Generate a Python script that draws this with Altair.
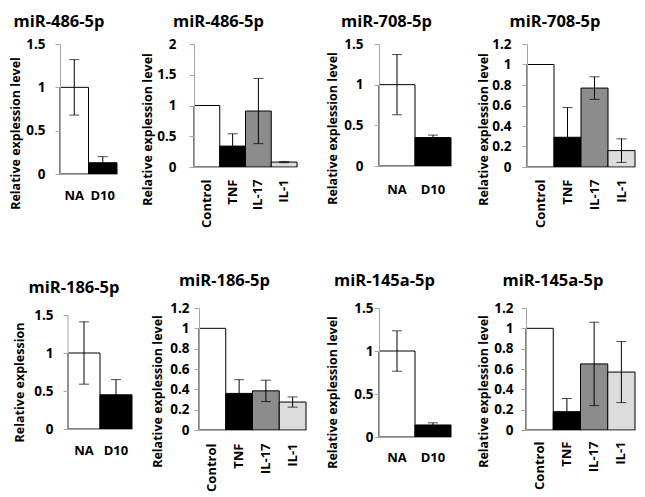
import altair as alt
import pandas as pd

FONT = "Open Sans"

# ---- data ----
TWO = ["NA", "D10"]
FOUR = ["Control", "TNF", "IL-17", "IL-1"]
TWO_COLORS = ["#ffffff", "#000000"]
FOUR_COLORS = ["#ffffff", "#000000", "#8c8c8c", "#dcdcdc"]

titles = ["miR-486-5p", "miR-486-5p", "miR-708-5p", "miR-708-5p",
          "miR-186-5p", "miR-186-5p", "miR-145a-5p", "miR-145a-5p"]
y_titles = ["Relative explession level"] * 4 + ["Relative explession"] + ["Relative explession level"] * 3

p1_values = [1.0, 0.13]
p1_errors = [0.32, 0.07]
p2_values = [1.0, 0.34, 0.91, 0.08]
p2_errors = [None, 0.20, 0.53, 0.01]
p3_values = [1.0, 0.35]
p3_errors = [0.37, 0.03]
p4_values = [1.0, 0.29, 0.77, 0.16]
p4_errors = [None, 0.29, 0.11, 0.115]
p5_values = [1.0, 0.45]
p5_errors = [0.41, 0.20]
p6_values = [1.0, 0.36, 0.385, 0.275]
p6_errors = [None, 0.135, 0.105, 0.05]
p7_values = [1.0, 0.14]
p7_errors = [0.235, 0.025]
p8_values = [1.0, 0.18, 0.65, 0.57]
p8_errors = [None, 0.13, 0.41, 0.30]

ticks_15 = [0, 0.5, 1, 1.5]
ticks_2 = [0, 0.5, 1, 1.5, 2]
ticks_12 = [0, 0.2, 0.4, 0.6, 0.8, 1, 1.2]


def panel(title, ytitle, cats, colors, values, errors, ymax, ticks,
          cell_w, x0, x1, h, tx, ty, ypad, xangle, xpad, tdx, toff, dom_top=None):
    df = pd.DataFrame({"cat": cats, "val": values, "color": colors,
                       "err": [float("nan") if e is None else e for e in errors]})
    df["lo"] = df["val"] - df["err"]
    df["hi"] = df["val"] + df["err"]
    edf = df.dropna()
    top = ymax if dom_top is None else dom_top
    yscale = alt.Scale(domain=[0, top], nice=False, zero=True)
    yaxis = alt.Axis(values=ticks, format=".1~f", title=ytitle, titleAngle=270,
                     titleAlign="center", titleBaseline="middle", titleX=tx, titleY=ty,
                     labelPadding=ypad, tickSize=5, domain=dom_top is None, zindex=1,
                     offset=-x0, labelFontSize=13.5, titleFontSize=12.5)
    xaxis = alt.Axis(title=None, labelAngle=xangle, ticks=False, labelPadding=xpad,
                     zindex=1, labelFontSize=13)
    X = alt.X("cat:N", scale=alt.Scale(domain=cats, range=[x0, x1], paddingInner=0,
                                       paddingOuter=0), axis=xaxis)
    bars = alt.Chart(df).mark_bar(stroke="black", strokeWidth=1).encode(
        x=X,
        y=alt.Y("val:Q", scale=yscale, axis=yaxis),
        fill=alt.Fill("color:N", scale=None),
    )
    rules = alt.Chart(edf).mark_rule(color="black", strokeWidth=1).encode(
        x=X, y=alt.Y("lo:Q", scale=yscale, axis=yaxis), y2="hi:Q")
    cap_hi = alt.Chart(edf).mark_tick(color="black", thickness=1, size=10).encode(
        x=X, y=alt.Y("hi:Q", scale=yscale, axis=yaxis))
    cap_lo = alt.Chart(edf).mark_tick(color="black", thickness=1, size=10).encode(
        x=X, y=alt.Y("lo:Q", scale=yscale, axis=yaxis))
    layers = [bars, rules, cap_hi, cap_lo]
    if dom_top is not None:
        axis_line = alt.Chart(pd.DataFrame({"a": [0]})).mark_rule(color="#a6a6a6").encode(
            x=alt.value(x0), y=alt.datum(0, scale=yscale), y2=alt.datum(ymax))
        layers.append(axis_line)
    return alt.layer(*layers).properties(
        width=cell_w, height=h,
        title=alt.TitleParams(title, anchor="middle", frame="group", dx=tdx, offset=toff),
    )


# columns: col0 62..196, col1 196..381, col2 381..528, col3 528..638
p1 = panel(titles[0], y_titles[0], TWO, TWO_COLORS, p1_values, p1_errors, 1.5, ticks_15,
           134, 0, 57, 130, -45, 89, 10, 0, 15, -68, 7)
p2 = panel(titles[1], y_titles[1], FOUR, FOUR_COLORS, p2_values, p2_errors, 2, ticks_2,
           185, 0, 103, 123, -47, 85, 13, 270, 12, -68, 7)
p3 = panel(titles[2], y_titles[2], TWO, TWO_COLORS, p3_values, p3_errors, 1.5, ticks_15,
           147, 0, 72, 122, -47, 84, 11, 0, 17, -66, 7)
p4 = panel(titles[3], y_titles[3], FOUR, FOUR_COLORS, p4_values, p4_errors, 1.2, ticks_12,
           110, 1, 109, 123, -44, 85, 11, 270, 12, -26, 7)
p5 = panel(titles[4], y_titles[4], TWO, TWO_COLORS, p5_values, p5_errors, 1.5, ticks_15,
           134, 8, 72, 121, -49, 74, 10, 0, 15, -53, 12, dom_top=1.5 * 121 / 114)
p6 = panel(titles[5], y_titles[5], FOUR, FOUR_COLORS, p6_values, p6_errors, 1.2, ticks_12,
           185, 5, 112, 122, -42, 83, 5, 270, 13, -62, 12)
p7 = panel(titles[6], y_titles[6], TWO, TWO_COLORS, p7_values, p7_errors, 1.5, ticks_15,
           147, 0, 72, 129, -47, 84, 1, 0, 14, -68, 12)
p8 = panel(titles[7], y_titles[7], FOUR, FOUR_COLORS, p8_values, p8_errors, 1.2, ticks_12,
           110, 0, 109, 122, -43, 83, 8, 270, 11, -28, 12)

chart = alt.concat(
    p1, p2, p3, p4, p5, p6, p7, p8, columns=4,
    spacing={"row": 134, "column": 0}, bounds="flush",
    align={"row": "all", "column": "each"},
).properties(
    padding={"left": 1, "top": 5, "right": 0, "bottom": 0}
).configure_view(stroke=None).configure_axis(
    labelFont=FONT, titleFont=FONT, labelFontWeight="bold", titleFontWeight="bold",
    labelColor="black", titleColor="black",
    domainColor="#a6a6a6", tickColor="#a6a6a6", grid=False,
).configure_title(font=FONT, fontWeight="bold", fontSize=16.5, color="black")

chart.save("out.html", embed_options={"renderer": "svg", "actions": False})
